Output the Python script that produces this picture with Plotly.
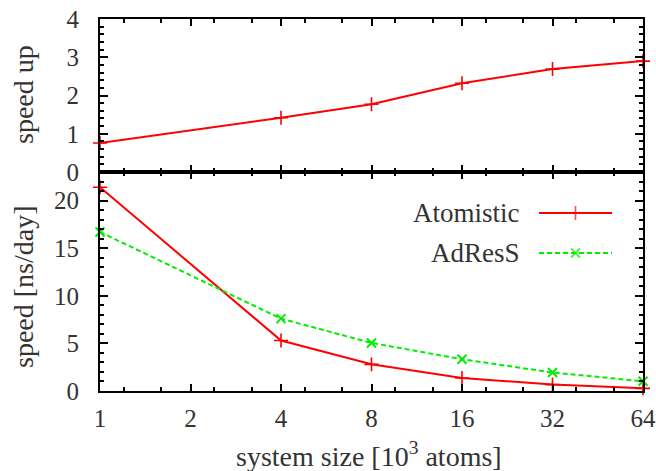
import plotly.graph_objects as go

# ---- data ----
x_size = [1, 4, 8, 16, 32, 64]
speedup = [0.76, 1.42, 1.77, 2.32, 2.69, 2.90]
atomistic = [21.4, 5.3, 2.8, 1.37, 0.67, 0.28]
adress = [16.7, 7.6, 5.05, 3.34, 1.94, 1.02]
x_ticks = [1, 2, 4, 8, 16, 32, 64]
x_tick_text = ["1", "2", "4", "8", "16", "32", "64"]
x_minor = [v * f for v in x_ticks[:-1] for f in (1.2, 1.6)]
series_names = ["Atomistic", "AdResS"]

RED = "#ff0000"
GREEN = "#00ee00"
FONT = "'Liberation Serif', 'DejaVu Serif', serif"
FS_TICK = 25
FS_TXT = 27
FS_TITLE = 28
TXT = "#333333"

W, H = 656, 471
L, R, T, B = 100, 13, 19, 80
split = 219 / 372.0

fig = go.Figure()

# top panel: speed up
fig.add_trace(go.Scatter(
    x=x_size, y=speedup, mode="lines+markers", xaxis="x2", yaxis="y2",
    line=dict(color=RED, width=2),
    marker=dict(symbol="cross-thin", size=10, line=dict(color=RED, width=1.6)),
    cliponaxis=False, showlegend=False))

# bottom panel: speeds
fig.add_trace(go.Scatter(
    x=x_size, y=atomistic, mode="lines+markers", xaxis="x", yaxis="y",
    name=series_names[0],
    line=dict(color=RED, width=2),
    marker=dict(symbol="cross-thin", size=10, line=dict(color=RED, width=1.6)),
    cliponaxis=False, showlegend=False))
fig.add_trace(go.Scatter(
    x=x_size, y=adress, mode="lines+markers", xaxis="x", yaxis="y",
    name=series_names[1],
    line=dict(color=GREEN, width=2, dash="5px,3px"),
    marker=dict(symbol="x-thin", size=9, line=dict(color=GREEN, width=2)),
    cliponaxis=False, showlegend=False))

# gnuplot-style legend keys (text left, sample right) on an overlay axis of the bottom panel
pw = W - L - R
bot_top, bot_bottom = 172.0, H - B
def fx(px):
    return (px - L) / pw
def fyb(py):
    return 1 - (py - bot_top) / (bot_bottom - bot_top)

legend_rows = [(213, RED, "solid", "cross-thin", 10, 1.6),
               (253, GREEN, "5px,3px", "x-thin", 9, 2)]
for name, (py, col, dash, sym, sz, lw) in zip(series_names, legend_rows):
    fig.add_trace(go.Scatter(
        x=[fx(539), fx(575.5), fx(612)], y=[fyb(py)] * 3,
        xaxis="x3", yaxis="y3", mode="lines+markers",
        line=dict(color=col, width=2, dash=dash),
        marker=dict(symbol=sym, size=[0, sz, 0], line=dict(color=col, width=lw)),
        showlegend=False, hoverinfo="skip", cliponaxis=False))
    fig.add_annotation(x=fx(522), y=fyb(py), xref="x3", yref="y3",
                       text=name, showarrow=False, xanchor="right",
                       yanchor="middle", font=dict(family=FONT, size=FS_TXT, color=TXT))

common_axis = dict(showline=True, linecolor="black", linewidth=2,
                   mirror="allticks", ticks="inside", tickcolor="black",
                   tickwidth=1.5, showgrid=False, zeroline=False, automargin=False,
                   tickfont=dict(family=FONT, size=FS_TICK, color=TXT))

xcommon = dict(common_axis, type="log", range=[0, 1.80618],
               tickmode="array", tickvals=x_ticks, ticktext=x_tick_text,
               ticklen=7,
               minor=dict(tickmode="array", tickvals=x_minor, ticks="inside",
                          ticklen=4, tickcolor="black", tickwidth=1.5, showgrid=False))

fig.update_layout(
    width=W, height=H,
    margin=dict(l=L, r=R, t=T, b=B, pad=0),
    plot_bgcolor="white", paper_bgcolor="white",
    showlegend=False,
    font=dict(family=FONT, size=FS_TICK, color=TXT),
    xaxis=dict(xcommon, anchor="y", ticklabelstandoff=4),
    xaxis2=dict(xcommon, anchor="y2", matches="x", showticklabels=False),
    yaxis=dict(common_axis, domain=[0, split], range=[0, 23],
               tickmode="array", tickvals=[0, 5, 10, 15, 20], ticklen=8,
               ticklabelstandoff=14,
               minor=dict(dtick=1, ticks="inside", ticklen=4, tickcolor="black",
                          tickwidth=1.5, showgrid=False)),
    yaxis2=dict(common_axis, domain=[split, 1], range=[0, 4],
                tickmode="array", tickvals=[0, 1, 2, 3, 4], ticklen=8,
                ticklabelstandoff=14,
                minor=dict(dtick=0.2, ticks="inside", ticklen=4, tickcolor="black",
                           tickwidth=1.5, showgrid=False)),
    xaxis3=dict(range=[0, 1], visible=False, anchor="y3", overlaying="x", automargin=False),
    yaxis3=dict(range=[0, 1], visible=False, anchor="x3", overlaying="y", automargin=False),
)

# axis titles
ph = H - T - B
fig.add_annotation(x=fx(23), y=1 - (95 - T) / ph, xref="paper", yref="paper",
                   text="speed up", textangle=-90, showarrow=False,
                   xanchor="center", yanchor="middle",
                   font=dict(family=FONT, size=FS_TITLE, color=TXT))
fig.add_annotation(x=fx(23), y=1 - (287 - T) / ph, xref="paper", yref="paper",
                   text="speed [ns/day]", textangle=-90, showarrow=False,
                   xanchor="center", yanchor="middle",
                   font=dict(family=FONT, size=FS_TITLE, color=TXT))
fig.add_annotation(x=fx(369), y=1 - (454 - T) / ph, xref="paper", yref="paper",
                   text="system size [10<sup>3</sup> atoms]",
                   showarrow=False, xanchor="center", yanchor="middle",
                   font=dict(family=FONT, size=FS_TITLE, color=TXT))

fig.write_html("out.html")
